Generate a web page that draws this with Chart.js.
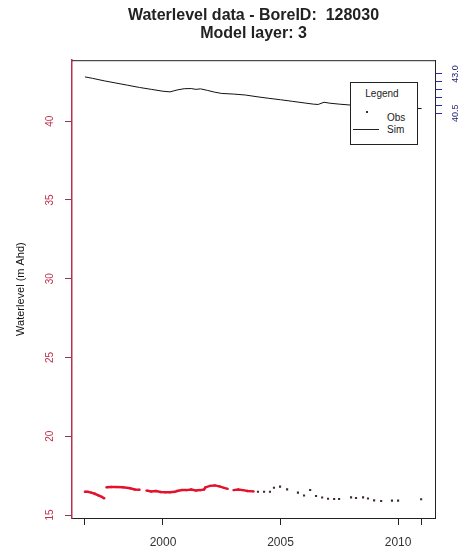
<!DOCTYPE html>
<html>
<head>
<meta charset="utf-8">
<script src="https://cdn.jsdelivr.net/npm/chart.js@4.4.1/dist/chart.umd.min.js"></script>
<style>
  html, body { margin: 0; padding: 0; background: #ffffff; }
  #wrap { position: relative; width: 467px; height: 555px; font-family: "Liberation Sans", Arial, sans-serif; }
  #legendBox { position: absolute; left: 350px; top: 82px; width: 66px; height: 61px; background: #fff; border: 1px solid #222; font-size: 10px; color: #222; }
  #legendBox .ttl { position: absolute; left: 0; width: 62px; top: 5px; text-align: center; }
  #legendBox .lab { position: absolute; left: 36px; }
  #legendBox .dot { position: absolute; left: 15px; top: 28px; width: 2px; height: 2px; background: #333; }
  #legendBox .ln { position: absolute; left: 2px; top: 46px; width: 26px; height: 0; border-top: 1px solid #222; }
</style>
</head>
<body>
<div id="wrap">
  <canvas id="c" width="467" height="555"></canvas>
  <div id="legendBox">
    <div class="ttl">Legend</div>
    <div class="dot"></div><div class="lab" style="top:29px">Obs</div>
    <div class="ln"></div><div class="lab" style="top:41px">Sim</div>
  </div>
</div>
<script>
// ---- data (decimal years, water level m AHD) ----
const simYears  = [1996.68,1997.0,1997.5,1998.0,1998.5,1999.0,1999.5,2000.0,2000.3,2000.6,2000.9,2001.2,2001.4,2001.6,2001.9,2002.2,2002.5,2003.0,2003.5,2004.0,2004.5,2005.0,2005.5,2006.0,2006.4,2006.6,2006.85,2007.1,2007.5,2008.0,2008.5,2009.0,2009.5,2010.0,2010.5,2011.0];
const simValues = [42.81,42.72,42.56,42.42,42.28,42.14,42.02,41.90,41.86,41.98,42.06,42.07,42.02,42.05,41.95,41.84,41.76,41.72,41.66,41.55,41.45,41.36,41.26,41.16,41.08,41.06,41.20,41.14,41.08,41.02,40.96,40.92,40.88,40.85,40.83,40.80];

// continuous logger observations (null = gap)
const loggerYears  = [1996.68,1996.8,1996.95,1997.1,1997.25,1997.4,1997.5,1997.55,1997.6,1997.8,1998.0,1998.3,1998.6,1998.8,1999.0,1999.15,1999.3,1999.5,1999.7,1999.9,2000.1,2000.3,2000.5,2000.6,2000.8,2001.0,2001.2,2001.4,2001.6,2001.75,2001.8,2002.0,2002.2,2002.4,2002.6,2002.75,2002.9,2003.0,2003.2,2003.4,2003.6,2003.85];
const loggerValues = [16.48,16.47,16.42,16.35,16.25,16.15,16.06,null,16.76,16.78,16.77,16.76,16.70,16.62,16.60,null,16.55,16.50,16.52,16.46,16.45,16.45,16.47,16.52,16.58,16.58,16.62,16.55,16.58,16.62,16.75,16.85,16.88,16.82,16.72,16.66,null,16.58,16.62,16.58,16.52,16.50];

// manual observations
const obsYears  = [2004.04,2004.30,2004.55,2004.72,2004.98,2005.28,2005.74,2006.00,2006.26,2006.51,2006.77,2007.02,2007.28,2007.49,2008.00,2008.21,2008.51,2008.72,2008.98,2009.28,2009.74,2010.00,2010.98];
const obsValues = [16.48,16.48,16.48,16.73,16.80,16.63,16.42,16.24,16.59,16.21,16.11,16.03,16.02,16.02,16.12,16.08,16.12,16.05,15.93,15.89,15.91,15.91,16.00];

// axis ticks
const xTicks      = [1996.68, 2000, 2005, 2010, 2011.0];
const xLabels     = ['', '2000', '2005', '2010', ''];
const yTicks      = [15, 20, 25, 30, 35, 40];
const y2Ticks     = [40.5, 41.0, 41.5, 42.0, 42.5, 43.0];
const y2Labels    = ['40.5', '', '', '', '', '43.0'];

const toXY = (xs, ys) => xs.map((x, i) => ({ x: x, y: ys[i] }));

const FONT = '"Liberation Sans", Arial, sans-serif';
const CRIMSON = '#b8304f';

const framePlugin = {
  id: 'frameTop',
  afterDraw(chart) {
    const a = chart.chartArea, ctx = chart.ctx;
    ctx.save();
    ctx.strokeStyle = '#222';
    ctx.lineWidth = 1;
    ctx.beginPath();
    ctx.moveTo(a.left, a.top + 0.5);
    ctx.lineTo(a.right, a.top + 0.5);
    ctx.stroke();
    ctx.restore();
  }
};

new Chart(document.getElementById('c'), {
  type: 'scatter',
  data: {
    datasets: [
      {
        label: 'Sim',
        data: toXY(simYears, simValues),
        showLine: true,
        borderColor: '#111',
        borderWidth: 1,
        pointRadius: 0,
        yAxisID: 'y'
      },
      {
        label: 'Obs logger',
        data: toXY(loggerYears, loggerValues),
        showLine: true,
        spanGaps: false,
        borderColor: '#e3122d',
        borderWidth: 2.5,
        pointRadius: 1.2,
        pointBackgroundColor: '#e3122d',
        pointBorderWidth: 0,
        yAxisID: 'y'
      },
      {
        label: 'Obs',
        data: toXY(obsYears, obsValues),
        showLine: false,
        pointStyle: 'rect',
        pointRadius: 1.5,
        pointBackgroundColor: '#3b2b33',
        pointBorderWidth: 0,
        yAxisID: 'y'
      }
    ]
  },
  options: {
    responsive: false,
    animation: false,
    layout: { padding: 0 },
    plugins: {
      legend: { display: false },
      tooltip: { enabled: false },
      title: {
        display: true,
        fullSize: false,
        text: ['Waterlevel data - BoreID:  128030', 'Model layer: 3'],
        font: { family: FONT, size: 16, weight: 'bold', lineHeight: 1.1 },
        color: '#222',
        padding: { top: 7, bottom: 18 }
      }
    },
    scales: {
      x: {
        type: 'linear',
        position: 'bottom',
        min: 1996.13,
        max: 2011.57,
        afterBuildTicks: s => { s.ticks = xTicks.map(v => ({ value: v })); },
        afterFit: s => { s.height = 37; },
        grid: { display: true, drawOnChartArea: false, drawTicks: true, tickLength: 7, color: '#222' },
        border: { display: true, color: '#222', width: 1 },
        ticks: {
          autoSkip: false, maxRotation: 0, minRotation: 0, padding: 10,
          font: { family: FONT, size: 12 }, color: '#333',
          callback: (v, i) => xLabels[i]
        }
      },
      y: {
        type: 'linear',
        position: 'left',
        min: 14.81,
        max: 43.87,
        afterBuildTicks: s => { s.ticks = yTicks.map(v => ({ value: v })); },
        afterFit: s => { s.width = 72; },
        grid: { display: true, drawOnChartArea: false, drawTicks: true, tickLength: 7, color: '#8a3a50' },
        border: { display: true, color: CRIMSON, width: 1.5 },
        ticks: {
          minRotation: 90, maxRotation: 90, crossAlign: 'center', padding: 9,
          font: { family: FONT, size: 10 }, color: '#c0304a',
          callback: v => String(v)
        },
        title: {
          display: true,
          text: 'Waterlevel (m Ahd)',
          font: { family: FONT, size: 11 },
          color: '#111',
          padding: { top: 14, bottom: 0 }
        }
      },
      y2: {
        type: 'linear',
        position: 'right',
        min: 14.81,
        max: 43.87,
        afterBuildTicks: s => { s.ticks = y2Ticks.map(v => ({ value: v })); },
        afterFit: s => { s.width = 32; },
        grid: { display: true, drawOnChartArea: false, drawTicks: true, tickLength: 7, color: '#2a2aa8' },
        border: { display: true, color: '#222', width: 1 },
        ticks: {
          minRotation: 90, maxRotation: 90, crossAlign: 'center', padding: 5,
          font: { family: FONT, size: 9 }, color: '#1e1e6e',
          callback: (v, i) => y2Labels[i]
        }
      }
    }
  },
  plugins: [framePlugin]
});
</script>
</body>
</html>
